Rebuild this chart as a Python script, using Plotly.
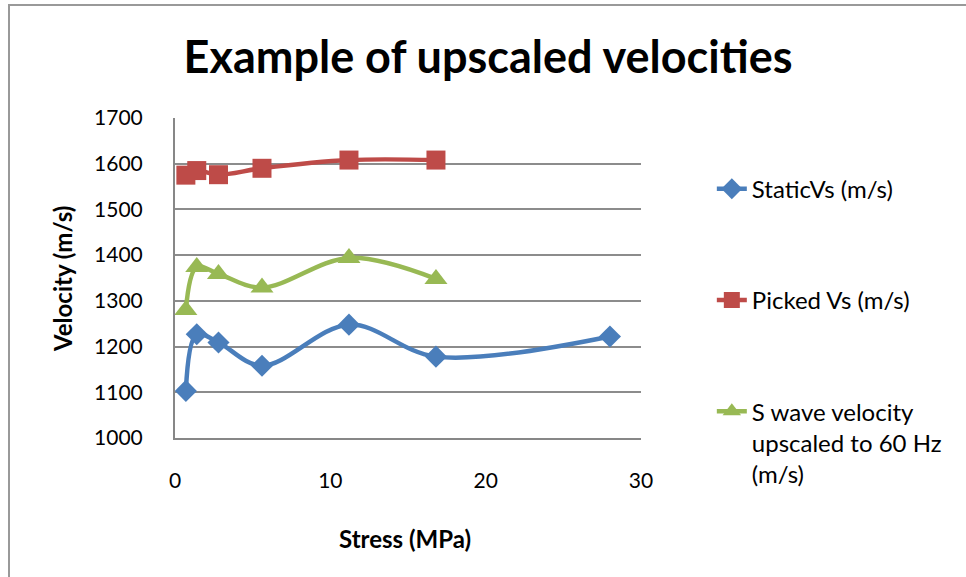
import plotly.graph_objects as go

# Stress steps (MPa) and measured / modelled shear velocities (m/s)
stress_static = [0.7, 1.4, 2.8, 5.6, 11.2, 16.8, 28.0]
static_vs = [1103, 1227, 1209, 1158, 1248, 1178, 1222]

stress_picked = [0.7, 1.4, 2.8, 5.6, 11.2, 16.8]
picked_vs = [1575, 1585, 1576, 1590, 1608, 1608]

stress_upscaled = [0.7, 1.4, 2.8, 5.6, 11.2, 16.8]
upscaled_vs = [1280, 1374, 1359, 1329, 1394, 1348]

series_names = [
    "StaticVs (m/s)",
    "Picked Vs (m/s)",
    "S wave velocity<br>upscaled to 60 Hz<br>(m/s)",
]

x_ticks = [0, 10, 20, 30]
y_ticks = [1000, 1100, 1200, 1300, 1400, 1500, 1600, 1700]

BLUE = "#4A7EBB"
RED = "#BE4B48"
GREEN = "#98B954"
FONT = "Lato"

fig = go.Figure()

fig.add_trace(go.Scatter(
    x=stress_static, y=static_vs, name=series_names[0],
    mode="lines+markers", legendgroup="a",
    line=dict(color=BLUE, width=4.5, shape="spline", smoothing=1),
    marker=dict(symbol="diamond", size=17, color=BLUE),
))
fig.add_trace(go.Scatter(
    x=stress_picked, y=picked_vs, name=series_names[1],
    mode="lines+markers", legendgroup="b",
    line=dict(color=RED, width=4.5, shape="spline", smoothing=1),
    marker=dict(symbol="square", size=19, color=RED),
))
fig.add_trace(go.Scatter(
    x=stress_upscaled, y=upscaled_vs, name=series_names[2],
    mode="lines+markers", legendgroup="c",
    line=dict(color=GREEN, width=4.5, shape="spline", smoothing=1),
    marker=dict(symbol="triangle-up", size=20, color=GREEN),
))

fig.update_layout(
    width=966, height=577,
    margin=dict(l=175, r=325, t=118, b=139),
    paper_bgcolor="white", plot_bgcolor="white",
    font=dict(family=FONT, size=21, color="black"),
    title=dict(
        text="<b>Example of upscaled velocities</b>",
        x=488 / 966, xanchor="center", xref="container",
        y=1 - 57 / 577, yanchor="middle",
        font=dict(family=FONT, size=45, color="black"),
    ),
    showlegend=True,
    legend=dict(
        x=1.152, xanchor="left", y=0.848, yanchor="top",
        font=dict(family=FONT, size=24, color="black"),
        tracegroupgap=77, valign="top", maxheight=560,
        bgcolor="rgba(0,0,0,0)",
    ),
    xaxis=dict(
        range=[0, 30], tickvals=x_ticks, ticks="", showgrid=False,
        showline=True, linecolor="#878787", linewidth=2,
        zeroline=False, ticklabelstandoff=23,
        tickfont=dict(family=FONT, size=21),
    ),
    yaxis=dict(
        range=[1000, 1700], tickvals=y_ticks, ticks="",
        showgrid=True, gridcolor="#8C8C8C", gridwidth=2,
        showline=True, linecolor="#878787", linewidth=2,
        zeroline=False, ticklabelstandoff=26,
        tickfont=dict(family=FONT, size=21),
    ),
    annotations=[
        dict(text="<b>Stress (MPa)</b>", xref="paper", yref="paper",
             x=(405 - 175) / 466, y=(438 - 538) / 320, showarrow=False,
             xanchor="center", yanchor="middle",
             font=dict(family=FONT, size=24, color="black")),
        dict(text="<b>Velocity (m/s)</b>", xref="paper", yref="paper",
             x=(62 - 175) / 466, y=(438 - 279) / 320, showarrow=False,
             textangle=-90, xanchor="center", yanchor="middle",
             font=dict(family=FONT, size=24, color="black")),
    ],
    shapes=[
        # outer chart frame
        dict(type="rect", xref="paper", yref="paper",
             x0=(9 - 175) / 466, x1=(1000 - 175) / 466,
             y0=(438 - 600) / 320, y1=(438 - 5) / 320,
             line=dict(color="#999999", width=2), layer="below"),
    ],
)

fig.write_html("out.html")
